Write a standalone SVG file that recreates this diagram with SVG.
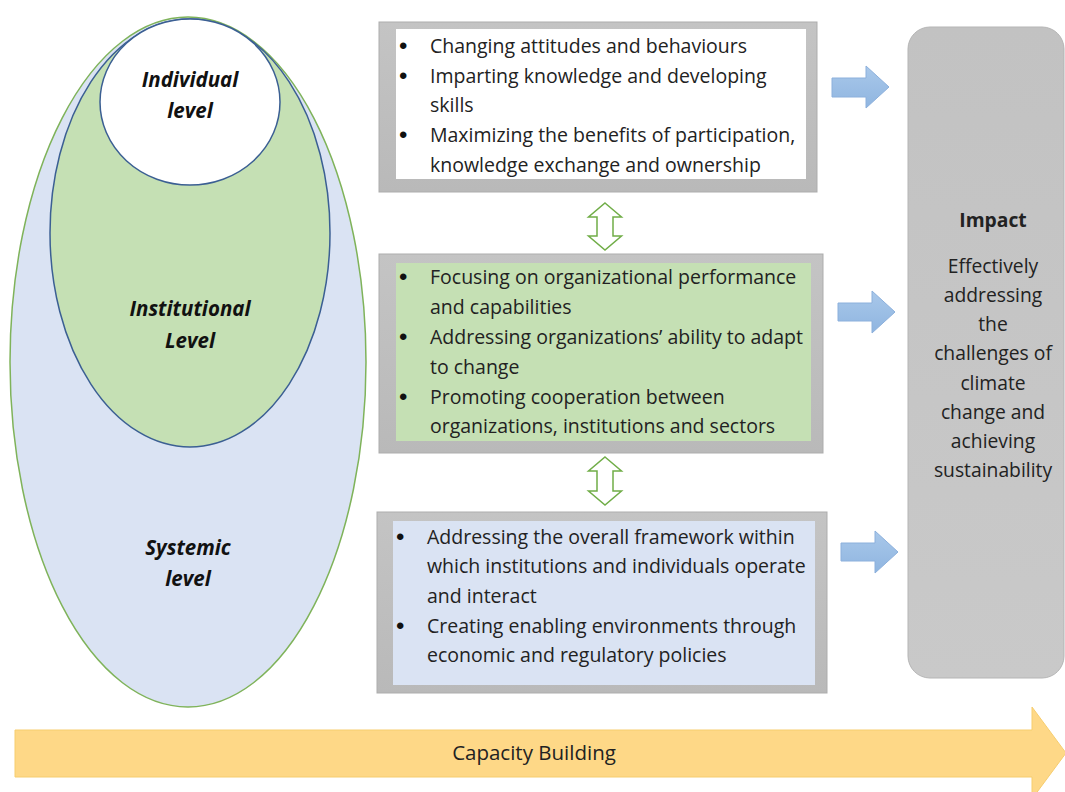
<svg xmlns="http://www.w3.org/2000/svg" width="1065" height="792" viewBox="0 0 1065 792">
<defs>
<linearGradient id="frameGrad" x1="0" y1="0" x2="0" y2="1">
<stop offset="0" stop-color="#c4c4c4"/>
<stop offset="1" stop-color="#b9b9b9"/>
</linearGradient>
<linearGradient id="impactGrad" x1="0" y1="0" x2="0" y2="1">
<stop offset="0" stop-color="#c2c2c2"/>
<stop offset="1" stop-color="#c9c9c9"/>
</linearGradient>
<linearGradient id="blueArrowGrad" x1="0" y1="0" x2="0" y2="1">
<stop offset="0" stop-color="#a9c8ea"/>
<stop offset="1" stop-color="#8fb5e0"/>
</linearGradient>
</defs>
<style>
.lvl{font-family:"Open Sans","Liberation Sans",sans-serif;font-weight:bold;font-style:italic;font-size:20.5px;fill:#111;text-anchor:middle}
.txt{font-family:"Open Sans","Liberation Sans",sans-serif;font-size:19.5px;fill:#222}
.bul{font-family:"Liberation Sans",sans-serif;font-size:24px;fill:#111}
.frame{fill:url(#frameGrad);stroke:#adadad;stroke-width:1}
.imp{font-family:"Open Sans","Liberation Sans",sans-serif;font-size:19.3px;fill:#222;text-anchor:middle}
.dbl{fill:#ffffff;stroke:#70ad47;stroke-width:1.5;stroke-linejoin:miter}
.blk{fill:url(#blueArrowGrad);stroke:#8cb0dc;stroke-width:1}
</style>
<rect width="1065" height="792" fill="#ffffff"/>

<g id="level-systemic">
<ellipse cx="188" cy="362" rx="178" ry="345" fill="#dae3f3" stroke="#7fb35a" stroke-width="1.5"/>
<text class="lvl" x="188" y="555">Systemic</text>
<text class="lvl" x="188" y="586">level</text>
</g>
<g id="level-institutional">
<ellipse cx="190" cy="233" rx="140" ry="214" fill="#c5e0b4" stroke="#3b5f93" stroke-width="1.5"/>
<text class="lvl" x="190" y="316">Institutional</text>
<text class="lvl" x="190" y="348">Level</text>
</g>
<g id="level-individual">
<ellipse cx="190" cy="102" rx="90" ry="83" fill="#ffffff" stroke="#3b5f93" stroke-width="1.5"/>
<text class="lvl" x="190" y="87">Individual</text>
<text class="lvl" x="190" y="118">level</text>
</g>

<g id="box-individual">
<rect class="frame" x="379" y="22" width="438" height="170"/>
<rect x="396" y="29" width="410" height="150" fill="#ffffff"/>
<text class="bul" x="399" y="54">•</text>
<text class="txt" x="430" y="53">Changing attitudes and behaviours</text>
<text class="bul" x="399" y="84">•</text>
<text class="txt" x="430" y="83">Imparting knowledge and developing</text>
<text class="txt" x="430" y="112">skills</text>
<text class="bul" x="399" y="143">•</text>
<text class="txt" x="430" y="142">Maximizing the benefits of participation,</text>
<text class="txt" x="430" y="172">knowledge exchange and ownership</text>
</g>

<g id="box-institutional">
<rect class="frame" x="379" y="254" width="444" height="199"/>
<rect x="396" y="263" width="415" height="178" fill="#c5e0b4"/>
<text class="bul" x="399" y="285">•</text>
<text class="txt" x="430" y="284">Focusing on organizational performance</text>
<text class="txt" x="430" y="314">and capabilities</text>
<text class="bul" x="399" y="345">•</text>
<text class="txt" x="430" y="344">Addressing organizations’ ability to adapt</text>
<text class="txt" x="430" y="374">to change</text>
<text class="bul" x="399" y="405">•</text>
<text class="txt" x="430" y="404">Promoting cooperation between</text>
<text class="txt" x="430" y="433">organizations, institutions and sectors</text>
</g>

<g id="box-systemic">
<rect class="frame" x="377" y="512" width="450" height="181"/>
<rect x="393" y="521" width="422" height="164" fill="#dae3f3"/>
<text class="bul" x="396" y="545">•</text>
<text class="txt" x="427" y="544">Addressing the overall framework within</text>
<text class="txt" x="427" y="573">which institutions and individuals operate</text>
<text class="txt" x="427" y="603">and interact</text>
<text class="bul" x="396" y="634">•</text>
<text class="txt" x="427" y="633">Creating enabling environments through</text>
<text class="txt" x="427" y="662">economic and regulatory policies</text>
</g>

<g id="impact">
<rect x="908" y="27" width="156" height="651" rx="22" ry="22" fill="url(#impactGrad)" stroke="#b5b5b5" stroke-width="1"/>
<text class="imp" x="993" y="227" font-weight="bold">Impact</text>
<text class="imp" x="993" y="273">Effectively</text>
<text class="imp" x="993" y="302">addressing</text>
<text class="imp" x="993" y="331">the</text>
<text class="imp" x="993" y="360">challenges of</text>
<text class="imp" x="993" y="390">climate</text>
<text class="imp" x="993" y="419">change and</text>
<text class="imp" x="993" y="448">achieving</text>
<text class="imp" x="993" y="477">sustainability</text>
</g>

<g id="capacity-building">
<path d="M15,730 H1032 V707 L1066,753 L1032,799 V777 H15 Z" fill="#fed887" stroke="#f6cd6e" stroke-width="1"/>
<text x="534" y="760" font-family="'Open Sans','Liberation Sans',sans-serif" font-size="20.5" fill="#222" text-anchor="middle">Capacity Building</text>
</g>

<g id="connectors">
<path class="dbl" d="M605,203 L621.5,217 L613,217 L613,236 L621.5,236 L605,250 L588.5,236 L597,236 L597,217 L588.5,217 Z"/>
<path class="dbl" d="M605,457 L621.5,471 L613,471 L613,491 L621.5,491 L605,505 L588.5,491 L597,491 L597,471 L588.5,471 Z"/>
<path class="blk" d="M832,78 H866 V66 L889,87 L866,108 V97 H832 Z"/>
<path class="blk" d="M838,303 H872 V291 L895,312 L872,333 V321 H838 Z"/>
<path class="blk" d="M841,543 H875 V531 L898,552 L875,573 V561 H841 Z"/>
</g>
</svg>
